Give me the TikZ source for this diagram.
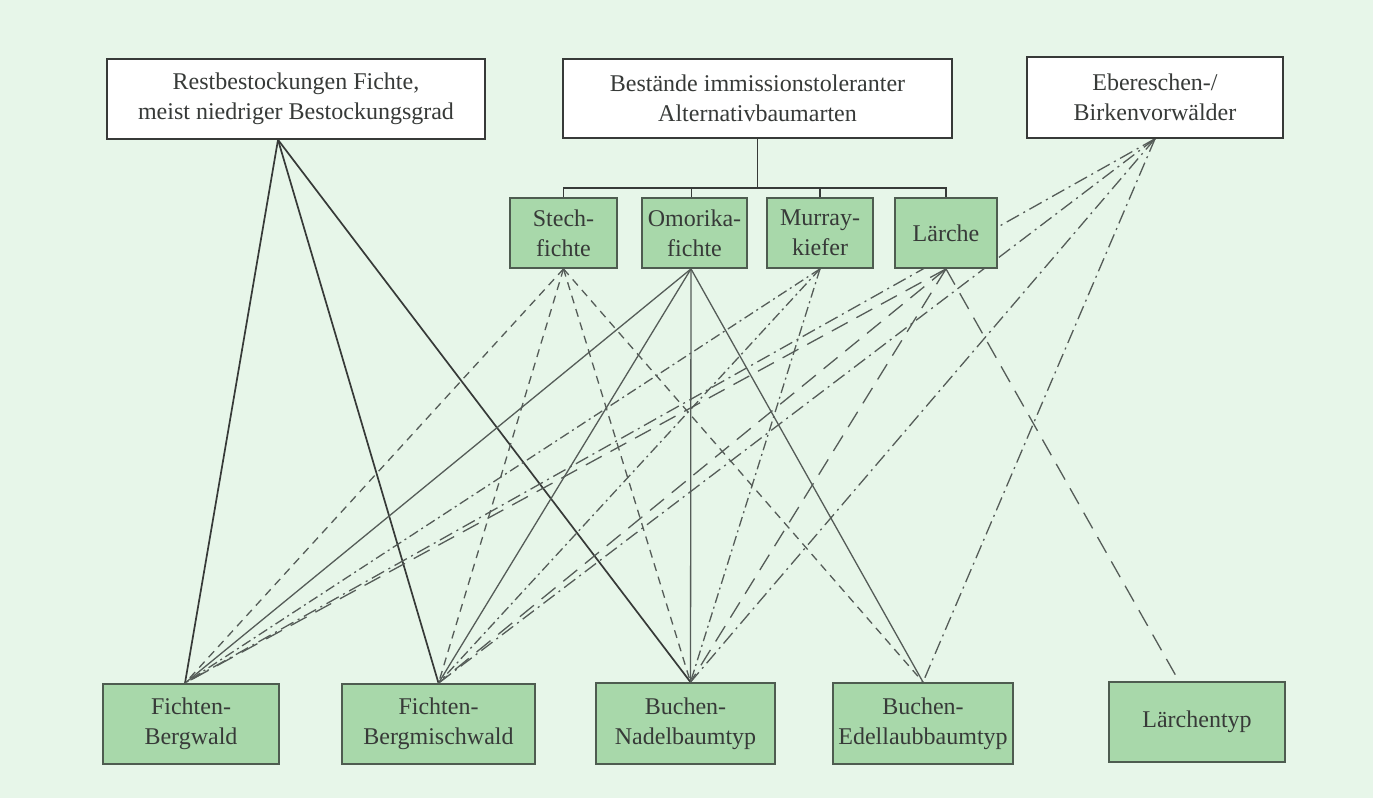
\documentclass[tikz,border=0pt]{standalone}
\usepackage{fontspec}
\setmainfont{Liberation Serif}
\usetikzlibrary{calc}

\definecolor{paper}{RGB}{231,246,233}
\definecolor{leaf}{RGB}{168,216,170}
\definecolor{ink}{RGB}{55,58,56}
\definecolor{rim}{RGB}{78,92,80}
\definecolor{wire}{RGB}{85,92,88}

\pgfdeclarelayer{paperlayer}
\pgfdeclarelayer{wirelayer}
\pgfsetlayers{paperlayer,wirelayer,main}

\begin{document}
\begin{tikzpicture}[x=1pt,y=-1pt,
  every node/.style={font=\fontsize{24}{30}\selectfont, text=ink, align=center, inner sep=0pt},
  whitebox/.style={draw=ink, line width=1.6pt, fill=white},
  greenbox/.style={draw=rim, line width=1.8pt, fill=leaf},
  restline/.style={draw=ink, line width=1.7pt},
  treeline/.style={draw=ink, line width=1.5pt},
  omoline/.style={draw=wire, line width=1.3pt},
  stechline/.style={draw=wire, line width=1.3pt, dash pattern=on 8pt off 6pt},
  murrayline/.style={draw=wire, line width=1.3pt, dash pattern=on 10pt off 4pt on 2pt off 4pt},
  laercheline/.style={draw=wire, line width=1.3pt, dash pattern=on 18pt off 10pt},
  eberline/.style={draw=wire, line width=1.3pt, dash pattern=on 14pt off 5pt on 2pt off 5pt}
]
\begin{pgfonlayer}{paperlayer}
  \fill[paper] (0,0) rectangle (1373,798);
\end{pgfonlayer}
\useasboundingbox (0,0) rectangle (1373,798);

% sources
\node[whitebox, minimum width=378pt, minimum height=80pt] (rest) at (296,99)
  {Restbestockungen Fichte,\\meist niedriger Bestockungsgrad};
\node[whitebox, minimum width=389pt, minimum height=79pt] (best) at (757.5,98.5)
  {Bestände immissionstoleranter\\Alternativbaumarten};
\node[whitebox, minimum width=256pt, minimum height=81pt] (eber) at (1155,97.5)
  {Ebereschen-/\\Birkenvorwälder};

% alternative tree species
\node[greenbox, minimum width=107pt, minimum height=70pt] (stech) at (563.5,233) {Stech-\\fichte};
\node[greenbox, minimum width=105pt, minimum height=70pt] (omo) at (694.5,233) {Omorika-\\fichte};
\node[greenbox, minimum width=106pt, minimum height=70pt] (murray) at (820,233) {Murray-\\kiefer};
\node[greenbox, minimum width=102pt, minimum height=70pt] (laerche) at (946,233) {Lärche};

% target forest types
\node[greenbox, minimum width=176pt, minimum height=80pt] (fb) at (191,724) {Fichten-\\Bergwald};
\node[greenbox, minimum width=193pt, minimum height=80pt] (fbm) at (438.5,724) {Fichten-\\Bergmischwald};
\node[greenbox, minimum width=179pt, minimum height=81pt] (bn) at (685.5,723.5) {Buchen-\\Nadelbaumtyp};
\node[greenbox, minimum width=180pt, minimum height=81pt] (be) at (923,723.5) {Buchen-\\Edellaubbaumtyp};
\node[greenbox, minimum width=176pt, minimum height=80pt] (lt) at (1197,722) {Lärchentyp};

% connection points
\coordinate (restout) at ([xshift=-18pt]rest.south);
\coordinate (fbin) at ([xshift=-6pt]fb.north);
\coordinate (bnin) at ([xshift=5pt]bn.north);
\coordinate (omoout) at ([xshift=-3.5pt]omo.south);
\coordinate (ltend) at ([xshift=-13pt,yshift=-9pt]lt.north);
\coordinate (junc) at ($(best.south)+(0,49)$);

\begin{pgfonlayer}{wirelayer}
  % tree below the alternative species box
  \draw[treeline] (best.south) -- (junc);
  \draw[treeline] (stech.north) |- (junc);
  \draw[treeline] ([xshift=-3pt]omo.north) |- (junc);
  \draw[treeline] (murray.north) |- (junc);
  \draw[treeline] (laerche.north) |- (junc);

  % remaining spruce stands
  \draw[restline] (restout) -- (fbin);
  \draw[restline] (restout) -- (fbm.north);
  \draw[restline] (restout) -- (bnin);

  % Stechfichte
  \draw[stechline] (stech.south) -- (fbin);
  \draw[stechline] (stech.south) -- (fbm.north);
  \draw[stechline] (stech.south) -- (bnin);
  \draw[stechline] (stech.south) -- (be.north);

  % Omorikafichte
  \draw[omoline] (omoout) -- (fbin);
  \draw[omoline] (omoout) -- (fbm.north);
  \draw[omoline] (omoout) -- (bnin);
  \draw[omoline] (omoout) -- (be.north);

  % Murraykiefer
  \draw[murrayline] (murray.south) -- (fbin);
  \draw[murrayline] (murray.south) -- (fbm.north);
  \draw[murrayline] (murray.south) -- (bnin);

  % Lärche
  \draw[laercheline] (laerche.south) -- (fbin);
  \draw[laercheline] (laerche.south) -- (fbm.north);
  \draw[laercheline] (laerche.south) -- (bnin);
  \draw[laercheline] (laerche.south) -- (ltend);

  % Ebereschen-/Birkenvorwälder
  \draw[eberline] (eber.south) -- (fbin);
  \draw[eberline] (eber.south) -- (fbm.north);
  \draw[eberline] (eber.south) -- (bnin);
  \draw[eberline] (eber.south) -- (be.north);
\end{pgfonlayer}
\end{tikzpicture}
\end{document}
